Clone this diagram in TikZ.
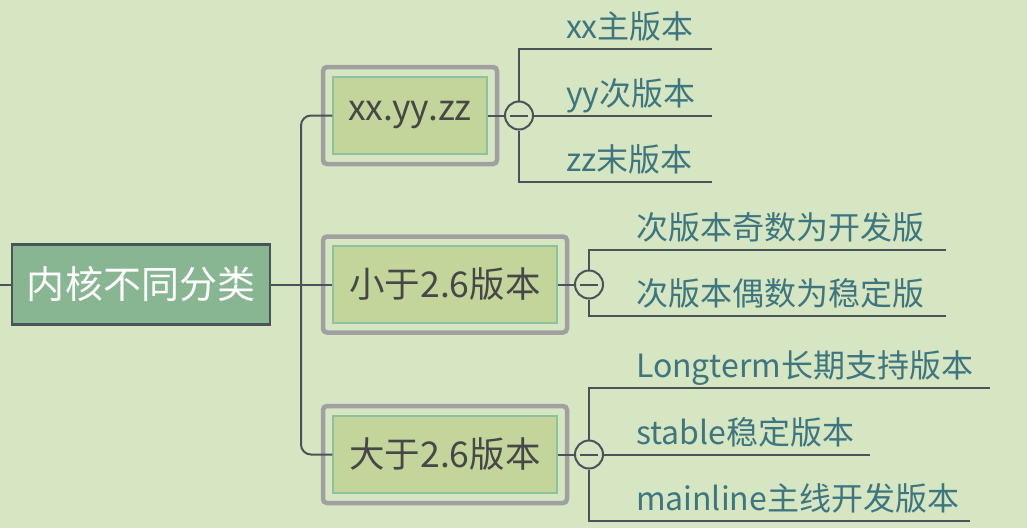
\documentclass[tikz,border=0pt]{standalone}
\usepackage{fontspec}
\setmainfont{Noto Sans CJK SC}
\definecolor{bgc}{HTML}{D6E5C2}
\definecolor{linec}{HTML}{4A5359}
\definecolor{rootc}{HTML}{88B692}
\definecolor{framec}{HTML}{A0A0A0}
\definecolor{boxc}{HTML}{C3D59B}
\definecolor{boxline}{HTML}{8EC19D}
\definecolor{labc}{HTML}{3E7680}
\begin{document}
\begin{tikzpicture}[x=1pt,y=-1pt,line width=2pt,
    root/.style={draw=linec,fill=rootc,text=white,line width=2.5pt,
        minimum width=258,minimum height=80,font=\fontsize{38}{42}\selectfont},
    frame/.style={draw=framec,fill=bgc,line width=4.5pt,rounded corners=4pt},
    verbox/.style={draw=boxline,fill=boxc,text=black!72,line width=1.5pt,
        minimum height=77,font=\fontsize{35.5}{40}\selectfont},
    fold/.style={circle,draw=linec,fill=bgc,minimum size=28,inner sep=0pt},
    lab/.style={anchor=base west,text=labc,inner sep=0pt,
        font=\fontsize{32}{36}\selectfont}]
    \path[fill=bgc,use as bounding box] (0,0) rectangle (1027,528);

    % root
    \node[root] (root) at (141,284.5) {内核不同分类};
    \coordinate (l0) at (0,284.5);
    \draw[linec] (l0) -- (root.west);

    % version boxes
    \node[frame,minimum width=174,minimum height=97] (v1f) at (410,115.5) {};
    \node[verbox,minimum width=154] (v1) at (410,115.5) {xx.yy.zz};

    \node[frame,minimum width=244,minimum height=96] (v2f) at (445,284.5) {};
    \node[verbox,minimum width=224] (v2) at (445,284.5) {小于2.6版本};

    \node[frame,minimum width=244,minimum height=97] (v3f) at (445,454.5) {};
    \node[verbox,minimum width=224] (v3) at (445,454.5) {大于2.6版本};

    \coordinate (jn) at (301,284.5);
    \draw[linec,rounded corners=10pt] (v1.west) -| (jn) |- (v3.west);
    \draw[linec] (root.east) -- (v2.west);

    % fold circles
    \node[fold] (c1) at (519,115.5) {};
    \node[fold] (c2) at (589,284.5) {};
    \node[fold] (c3) at (589,454.5) {};
    \foreach \c in {c1,c2,c3}
        \draw[linec] (\c.center) +(-9,0) -- +(9,0);

    \draw[linec] (v1.east) -- (c1.west);
    \draw[linec] (v2.east) -- (c2.west);
    \draw[linec] (v3.east) -- (c3.west);

    % xx.yy.zz
    \coordinate (e1a) at (712,49);
    \coordinate (e1b) at (712,115.5);
    \coordinate (e1c) at (712,182);
    \draw[linec] (c1.north) |- (e1a);
    \draw[linec] (c1.east) -- (e1b);
    \draw[linec] (c1.south) |- (e1c);
    \node[lab] (t1a) at (565,38) {xx主版本};
    \node[lab] (t1b) at (565,105) {yy次版本};
    \node[lab] (t1c) at (565,171) {zz末版本};

    % below 2.6
    \coordinate (e2a) at (946,250);
    \coordinate (e2b) at (946,316);
    \draw[linec] (c2.north) |- (e2a);
    \draw[linec] (c2.south) |- (e2b);
    \node[lab] (t2a) at (635,239) {次版本奇数为开发版};
    \node[lab] (t2b) at (635,305) {次版本偶数为稳定版};

    % above 2.6
    \coordinate (e3a) at (990,388);
    \coordinate (e3b) at (870,454.5);
    \coordinate (e3c) at (970,521);
    \draw[linec] (c3.north) |- (e3a);
    \draw[linec] (c3.east) -- (e3b);
    \draw[linec] (c3.south) |- (e3c);
    \node[lab] (t3a) at (635,377) {Longterm长期支持版本};
    \node[lab] (t3b) at (635,444) {stable稳定版本};
    \node[lab] (t3c) at (635,510) {mainline主线开发版本};
\end{tikzpicture}
\end{document}
